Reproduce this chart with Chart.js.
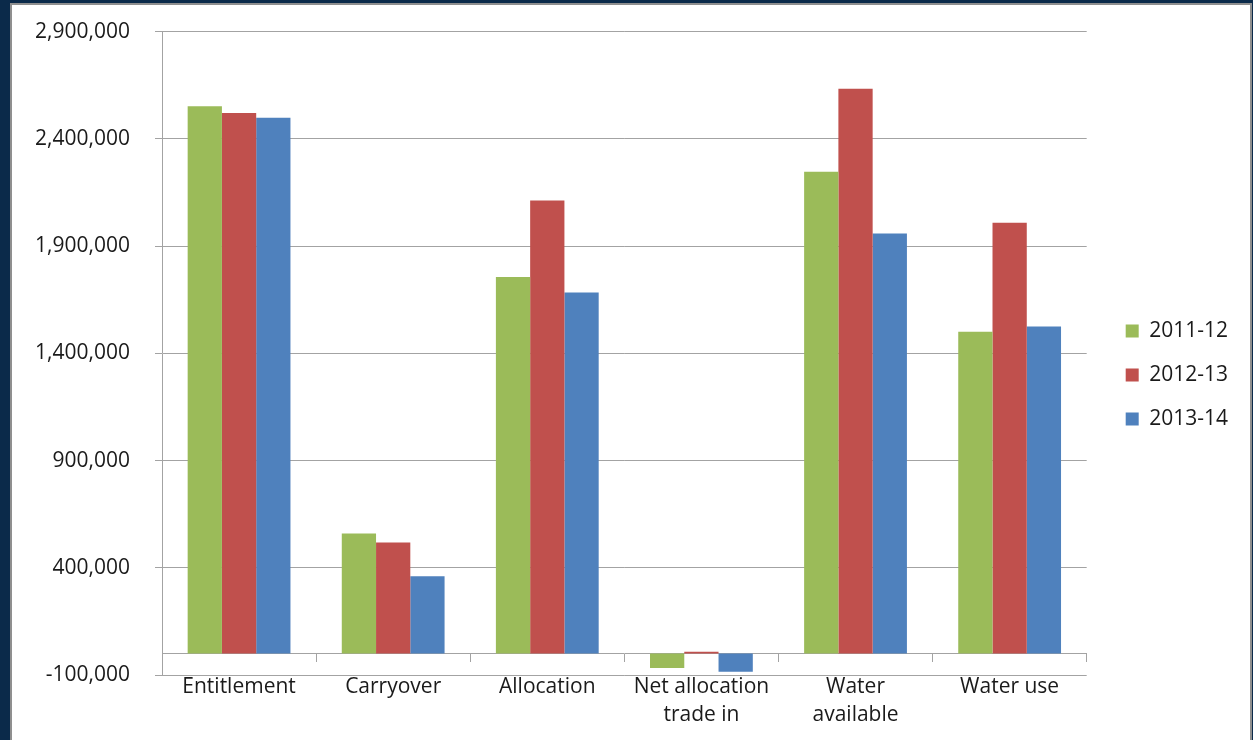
<!DOCTYPE html>
<html>
<head>
<meta charset="utf-8">
<script src="https://cdn.jsdelivr.net/npm/chart.js@4.4.1/dist/chart.umd.min.js"></script>
<style>
  html, body { margin: 0; padding: 0; width: 1253px; height: 740px; overflow: hidden; background: #0b2a4a; }
  #panel { position: absolute; left: 10px; top: 3px; width: 1238px; height: 760px; background: #ffffff; border: 2px solid #8f8f8f; }
  #wrap { position: absolute; left: 0px; top: -11px; width: 1238px; height: 746px; }
</style>
</head>
<body>
<div id="panel"><div id="wrap"><canvas id="c"></canvas></div></div>
<script>
const categories = ["Entitlement", "Carryover", "Allocation", ["Net allocation", "trade in"], ["Water", "available"], "Water use"];
const seriesNames = ["2011-12", "2012-13", "2013-14"];
const values2011 = [2552000, 560000, 1756000, -67000, 2247000, 1501000];
const values2012 = [2520000, 518000, 2112000, 8000, 2634000, 2009000];
const values2013 = [2498000, 361000, 1684000, -85000, 1959000, 1525000];
const seriesColors = ["#9BBB59", "#C0504D", "#4F81BD"];
const yMin = -100000, yMax = 2900000, yStep = 500000;

const gridColor = "#a3a3a3";
const textColor = "#1a1a1a";
Chart.defaults.font.family = "'Open Sans', 'Noto Sans', sans-serif";
Chart.defaults.font.size = 21;
Chart.defaults.color = textColor;

const seriesValues = [values2011, values2012, values2013];
new Chart(document.getElementById("c"), {
  type: "bar",
  data: {
    labels: categories,
    datasets: seriesNames.map((n, i) => ({
      label: n,
      data: seriesValues[i],
      backgroundColor: seriesColors[i],
      borderWidth: 0,
      xAxisID: "x",
      yAxisID: "y",
      categoryPercentage: 0.667,
      barPercentage: 1.0
    }))
  },
  options: {
    responsive: true,
    maintainAspectRatio: false,
    animation: false,
    locale: "en-US",
    layout: { padding: { top: 30, bottom: 14, left: 0, right: 12 } },
    plugins: {
      tooltip: { enabled: false },
      legend: {
        position: "right",
        maxWidth: 148,
        labels: {
          boxWidth: 13,
          boxHeight: 13,
          padding: 23,
          color: textColor,
          font: { size: 21 }
        }
      }
    },
    scales: {
      x: {
        type: "category",
        position: "bottom",
        offset: true,
        grid: { display: false, drawTicks: false },
        border: { display: false },
        ticks: { padding: -2, maxRotation: 0, autoSkip: false, color: textColor, font: { size: 21, lineHeight: 1.33 } },
        afterFit: s => { s.height = 51; }
      },
      x0: {
        type: "category",
        position: { y: 0 },
        offset: true,
        grid: { display: true, drawOnChartArea: false, drawTicks: true, tickLength: 8, color: gridColor, offset: true },
        border: { display: true, color: gridColor, width: 1 },
        ticks: { display: false }
      },
      y: {
        type: "linear",
        position: "left",
        min: yMin,
        max: yMax,
        ticks: {
          stepSize: yStep,
          padding: 25,
          color: textColor,
          font: { size: 21 },
          callback: v => Number(v).toLocaleString("en-US")
        },
        grid: { color: gridColor, lineWidth: 1, drawTicks: true, tickLength: 7 },
        border: { display: true, color: gridColor, width: 1 },
        afterFit: s => { s.width = 150; }
      },
      yR: {
        type: "linear",
        position: "right",
        display: true,
        ticks: { display: false },
        grid: { display: false, drawTicks: false },
        border: { display: false },
        afterFit: s => { s.width = 16; }
      }
    }
  }
});
</script>
</body>
</html>
